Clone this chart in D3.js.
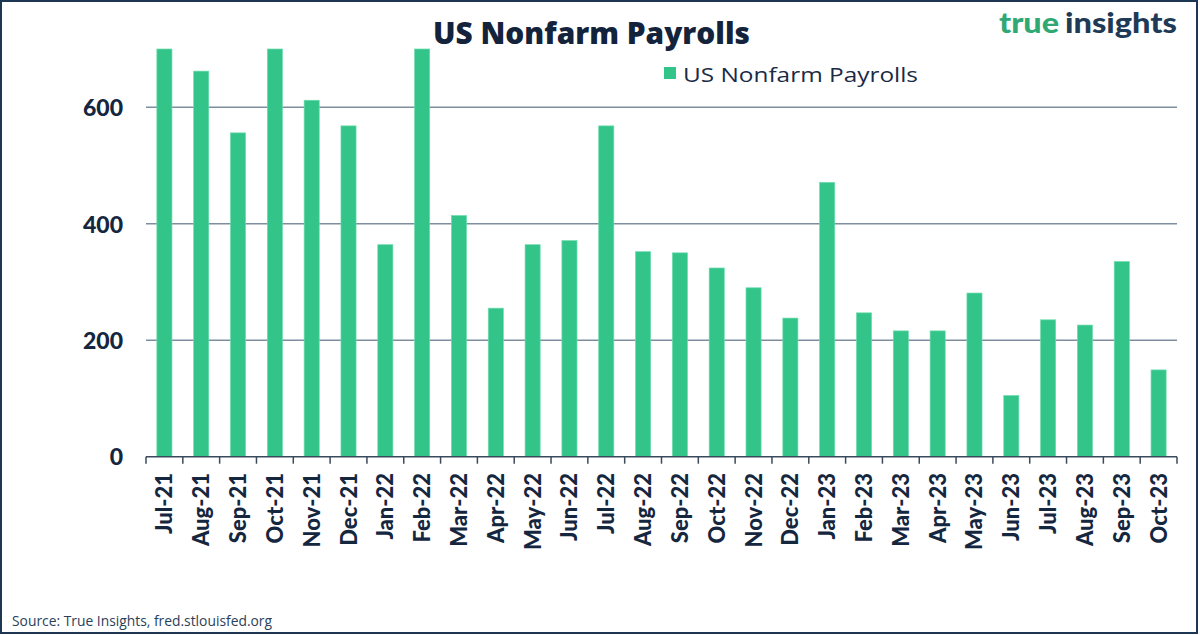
<!DOCTYPE html>
<html>
<head>
<meta charset="utf-8">
<script src="https://cdn.jsdelivr.net/npm/d3@7"></script>
<style>
  html, body { margin: 0; padding: 0; background: #ffffff; }
  svg { display: block; }
</style>
</head>
<body>
<svg id="chart" width="1200" height="635"></svg>
<script>
// ---- Data (values in thousands; axis capped at 700) ----
const categories = ["Jul-21","Aug-21","Sep-21","Oct-21","Nov-21","Dec-21","Jan-22","Feb-22","Mar-22","Apr-22","May-22","Jun-22","Jul-22","Aug-22","Sep-22","Oct-22","Nov-22","Dec-22","Jan-23","Feb-23","Mar-23","Apr-23","May-23","Jun-23","Jul-23","Aug-23","Sep-23","Oct-23"];
const payrolls = [700, 662, 556, 700, 612, 568, 364, 700, 414, 255, 364, 371, 568, 352, 350, 324, 290, 238, 471, 247, 216, 216, 281, 105, 235, 226, 335, 149];
const yTicks = [0, 200, 400, 600];
const yMax = 700;
const seriesName = "US Nonfarm Payrolls";
const titleText = "US Nonfarm Payrolls";
const sourceText = "Source: True Insights, fred.stlouisfed.org";
const logoParts = ["true", "insights"];

const svg = d3.select("#chart");
const W = 1200, H = 635;
const navy = "#15263f";
const green = "#33c48a";

// Frame
svg.append("rect").attr("x", 1).attr("y", 1).attr("width", W - 4).attr("height", H - 3)
  .attr("fill", "#fff").attr("stroke", "#1d3654").attr("stroke-width", 2);

const x = d3.scaleBand().domain(categories).range([146, 1177]).paddingInner(0.59).paddingOuter(0.295);
const y = d3.scaleLinear().domain([0, yMax]).range([456.7, 49]);

// Gridlines
svg.append("g").selectAll("line").data(yTicks.filter(d => d > 0)).join("line")
  .attr("x1", 146).attr("x2", 1177)
  .attr("y1", d => y(d)).attr("y2", d => y(d))
  .attr("stroke", "#7f8e9e").attr("stroke-width", 1.5);

// Bars
svg.append("g").selectAll("rect").data(payrolls).join("rect")
  .attr("x", (d, i) => x(categories[i]))
  .attr("width", x.bandwidth())
  .attr("y", d => y(Math.min(d, yMax)))
  .attr("height", d => y(0) - y(Math.min(d, yMax)))
  .attr("fill", green)
  .attr("stroke", "#6ddcae").attr("stroke-width", 0.7);

// Y axis labels
const yAxis = d3.axisLeft(y).tickValues(yTicks).tickSize(0).tickPadding(0);
const gy = svg.append("g").attr("transform", "translate(123,0)").call(yAxis);
gy.select(".domain").remove();
gy.selectAll("text")
  .attr("font-family", "Lato, 'Open Sans', sans-serif")
  .attr("font-weight", 900).attr("font-size", 23).attr("fill", navy)
  .attr("dy", "0.36em");

// X axis: line + ticks at band boundaries
svg.append("line").attr("x1", 146).attr("x2", 1177).attr("y1", y(0)).attr("y2", y(0))
  .attr("stroke", "#3a4a5c").attr("stroke-width", 1.5);
const step = x.step();
const boundaries = d3.range(categories.length + 1).map(i => 146 + i * step);
svg.append("g").selectAll("line").data(boundaries).join("line")
  .attr("x1", d => d).attr("x2", d => d)
  .attr("y1", y(0)).attr("y2", y(0) + 7)
  .attr("stroke", "#3a4a5c").attr("stroke-width", 1.5);

// X labels
svg.append("g").selectAll("text").data(categories).join("text")
  .attr("transform", d => `translate(${x(d) + x.bandwidth() / 2 + 8},473) rotate(-90)`)
  .attr("text-anchor", "end")
  .attr("font-family", "Lato, 'Open Sans', sans-serif")
  .attr("font-weight", 900).attr("font-size", 22).attr("fill", navy)
  .text(d => d);

// Title
svg.append("text").attr("x", 433).attr("y", 44)
  .attr("font-family", "'Open Sans', sans-serif").attr("font-weight", 800)
  .attr("font-size", 30).attr("fill", "#13233b")
  .attr("textLength", 317).attr("lengthAdjust", "spacingAndGlyphs")
  .text(titleText);

// Legend
svg.append("rect").attr("x", 664).attr("y", 67).attr("width", 12).attr("height", 12).attr("fill", green);
svg.append("text").attr("x", 683).attr("y", 81.5)
  .attr("font-family", "'Open Sans', sans-serif").attr("font-size", 20.5).attr("fill", "#1a2b45")
  .attr("textLength", 235).attr("lengthAdjust", "spacingAndGlyphs")
  .text(seriesName);

// Logo
svg.append("text").attr("x", 999).attr("y", 32.5)
  .attr("font-family", "Lato, sans-serif").attr("font-weight", 900).attr("font-size", 29)
  .attr("fill", "#2fa874")
  .attr("textLength", 60).attr("lengthAdjust", "spacingAndGlyphs")
  .text(logoParts[0]);
svg.append("text").attr("x", 1065).attr("y", 32.5)
  .attr("font-family", "Lato, sans-serif").attr("font-weight", 900).attr("font-size", 29)
  .attr("fill", "#1f3a56")
  .attr("textLength", 112).attr("lengthAdjust", "spacingAndGlyphs")
  .text(logoParts[1]);

// Source
svg.append("text").attr("x", 12).attr("y", 626)
  .attr("font-family", "'Open Sans', sans-serif").attr("font-size", 14).attr("fill", "#2a3f5a")
  .attr("textLength", 260).attr("lengthAdjust", "spacingAndGlyphs")
  .text(sourceText);
</script>
</body>
</html>
